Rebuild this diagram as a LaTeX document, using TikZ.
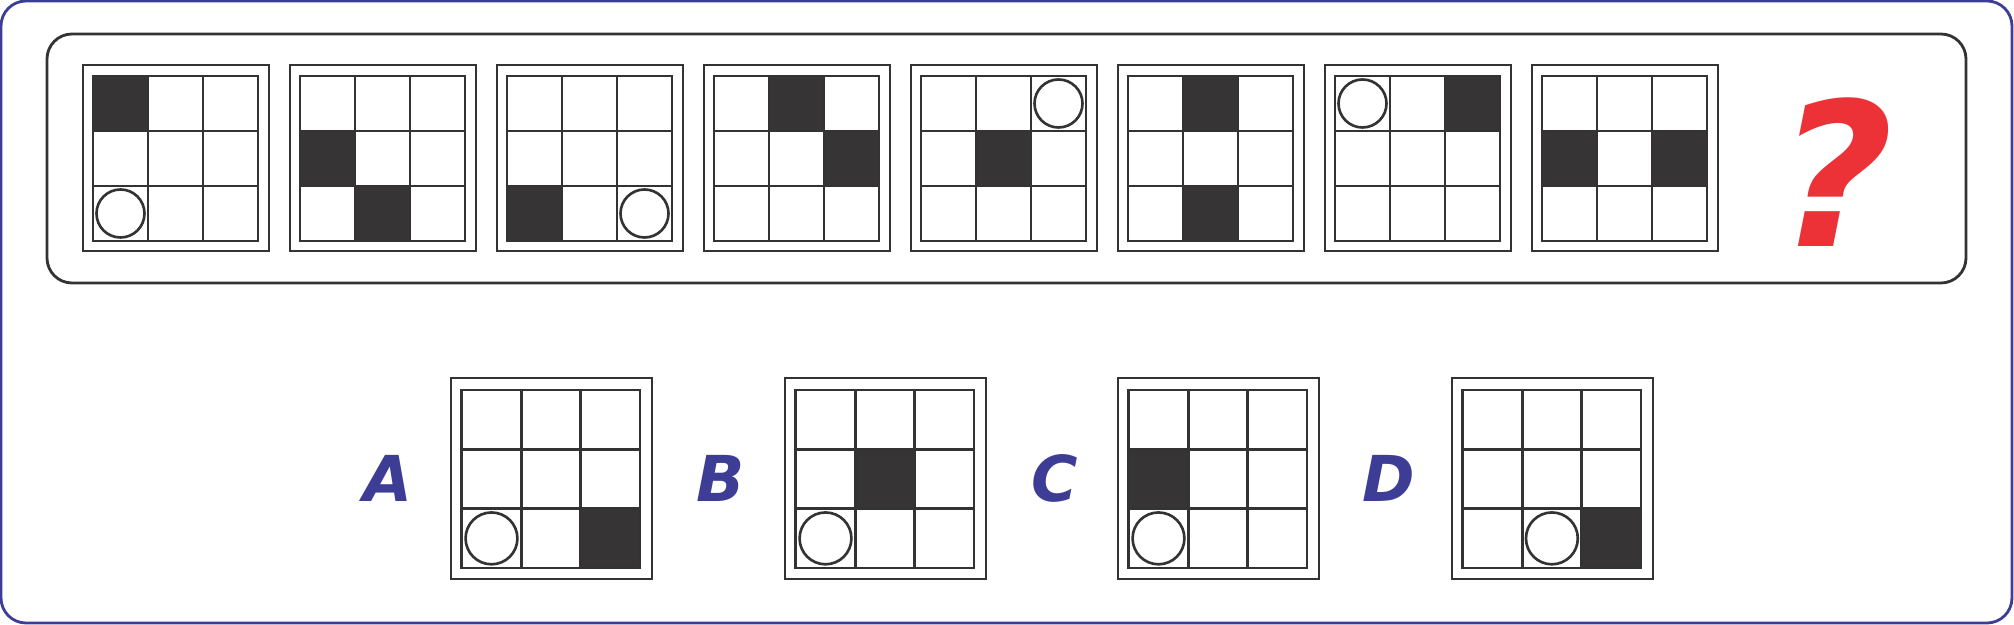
\documentclass[tikz,border=0pt]{standalone}
\usepackage{fontspec}
\usepackage{tikz}
\newfontfamily\optfont{DejaVu Sans}
\definecolor{frameblue}{HTML}{3D3D96}
\definecolor{cellgray}{HTML}{373435}
\definecolor{linegray}{HTML}{333333}
\definecolor{askred}{HTML}{EC3237}
\tikzset{
  boxline/.style={draw=linegray, line width=0.75pt, line cap=rect},
  cellfill/.style={fill=cellgray},
  optlabel/.style={text=frameblue, font=\optfont\bfseries\itshape\fontsize{18}{18}\selectfont},
}
% one 3x3 puzzle box: #1 top-left corner, #2 scale, #3 dark cells col/row, #4 circle cells col/row
\newcommand{\puzzlebox}[4]{%
  \begin{scope}[shift={#1}, scale=#2]
    \draw[boxline] (0,0) rectangle (186,186);
    \foreach \c/\r in {#3}
      \fill[cellfill] ({10+55*(\c-1)},{11+55*(\r-1)}) rectangle ++(55,55);
    \foreach \i in {0,...,3} {
      \draw[boxline] ({10+55*\i},11) -- ++(0,165);
      \draw[boxline] (10,{11+55*\i}) -- ++(165,0);
    }
    \foreach \c/\r in {#4}
      \draw[boxline] ({10+55*(\c-0.5)},{11+55*(\r-0.5)}) circle (24);
  \end{scope}}

\begin{document}
\begin{tikzpicture}[x=0.01cm, y=-0.01cm]
  \useasboundingbox (0,0) rectangle (2014,625);

  % Outer frame and the frame of the sequence
  \draw[frameblue, line width=0.8pt, rounded corners=0.25cm] (1,1) rectangle (2012,623);
  \draw[linegray, line width=0.8pt, rounded corners=0.25cm] (47,34) rectangle (1966,283);

  % Sequence of eight boxes
  \puzzlebox{(83,65)}{1}{1/1}{1/3}
  \puzzlebox{(290,65)}{1}{1/2, 2/3}{}
  \puzzlebox{(497,65)}{1}{1/3}{3/3}
  \puzzlebox{(704,65)}{1}{2/1, 3/2}{}
  \puzzlebox{(911,65)}{1}{2/2}{3/1}
  \puzzlebox{(1118,65)}{1}{2/1, 2/3}{}
  \puzzlebox{(1325,65)}{1}{3/1}{1/1}
  \puzzlebox{(1532,65)}{1}{1/2, 3/2}{}

  % Question mark
  \node[text=askred, font=\optfont\bfseries\itshape\fontsize{57}{57}\selectfont] (ask) at (1836,172) {?};

  % Answer options
  \puzzlebox{(451,378)}{1.08}{3/3}{1/3}
  \puzzlebox{(785,378)}{1.08}{2/2}{1/3}
  \puzzlebox{(1118,378)}{1.08}{1/2}{1/3}
  \puzzlebox{(1452,378)}{1.08}{3/3}{2/3}

  \node[optlabel] (optA) at (388,478) {A};
  \node[optlabel] (optB) at (721,478) {B};
  \node[optlabel] (optC) at (1055,478) {C};
  \node[optlabel] (optD) at (1389,478) {D};
\end{tikzpicture}
\end{document}
